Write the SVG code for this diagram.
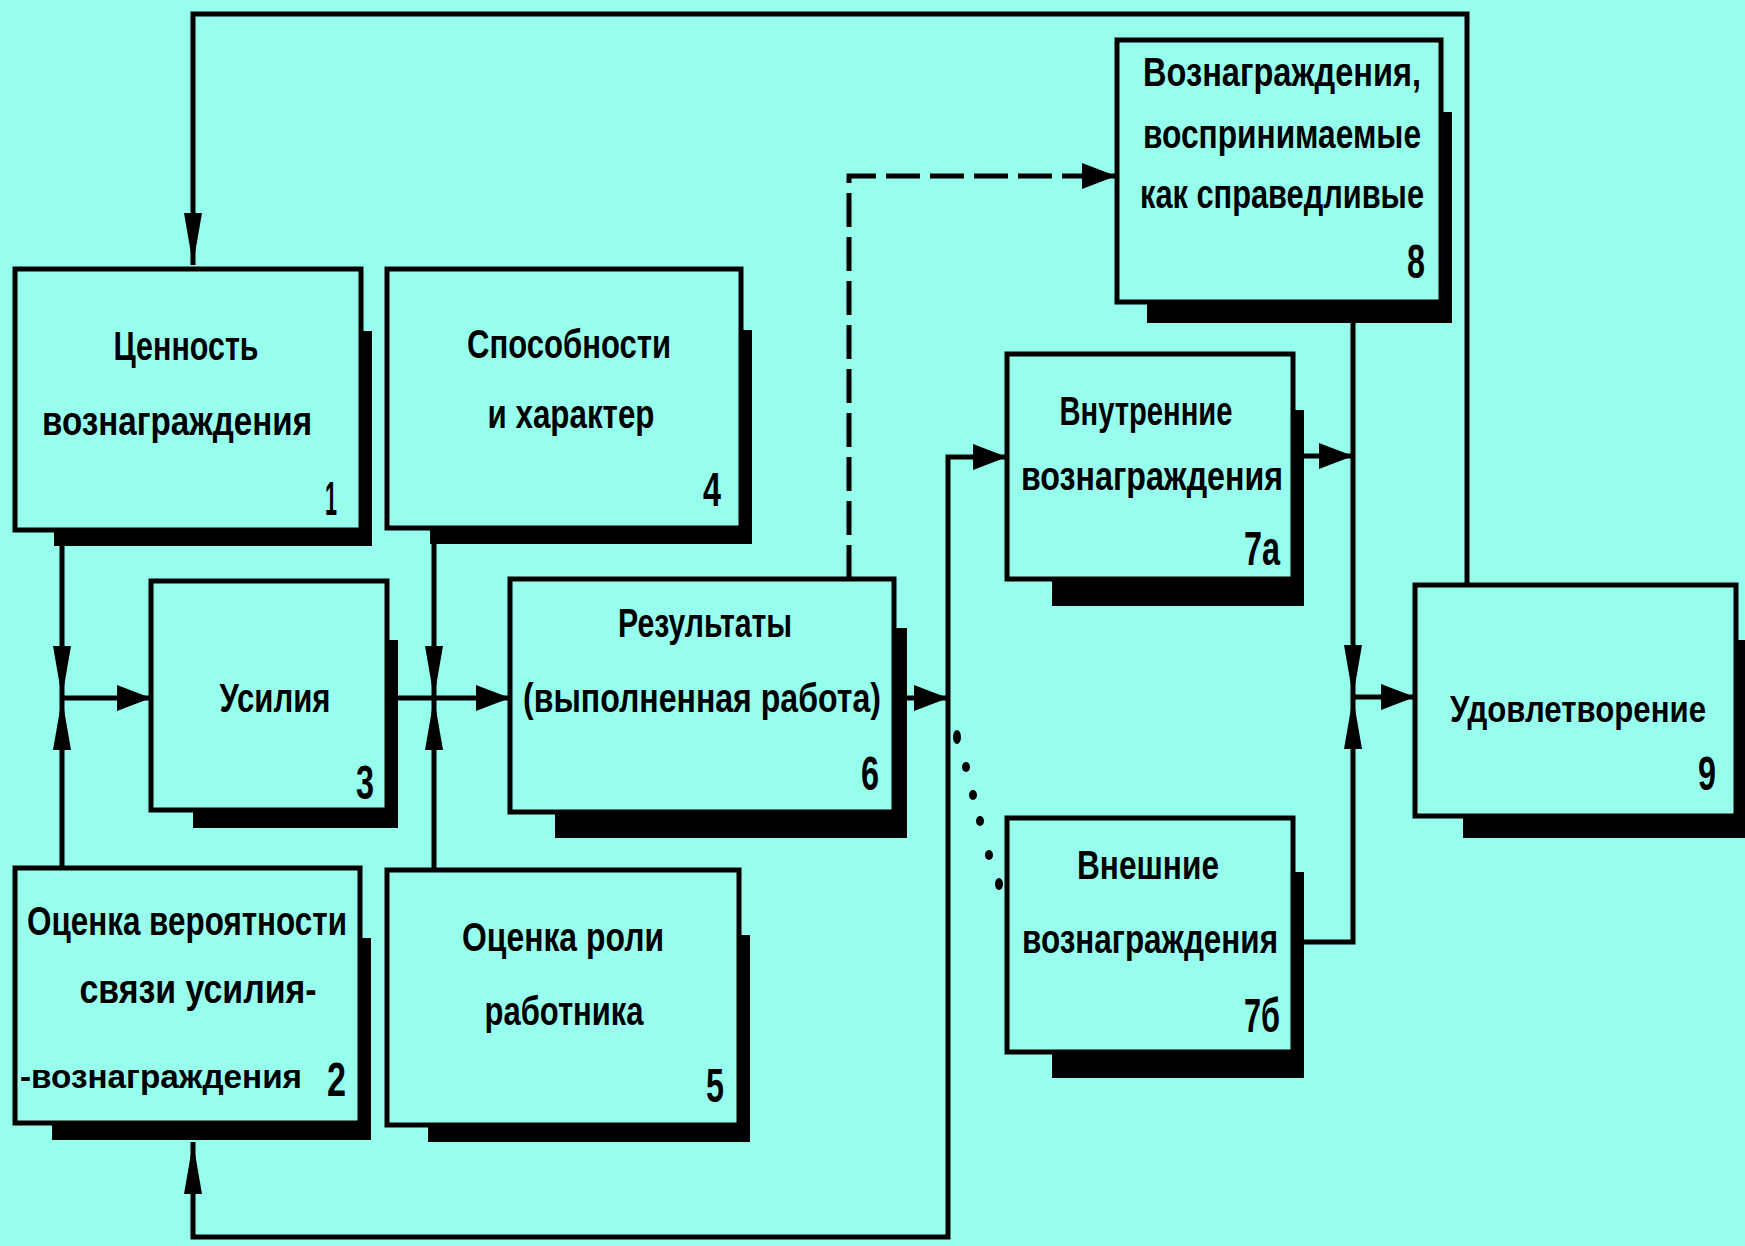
<svg xmlns="http://www.w3.org/2000/svg" width="1745" height="1246" viewBox="0 0 1745 1246">
<style>
.bg{fill:#97fdec}
.box{fill:#97fdec;stroke:#000;stroke-width:5}
.sh{fill:#000}
.ln{fill:none;stroke:#000;stroke-width:5}
.dash{fill:none;stroke:#000;stroke-width:5;stroke-dasharray:34 10}
.t{font-family:"Liberation Sans","DejaVu Sans",sans-serif;font-weight:bold;font-size:40px;fill:#000;text-anchor:middle}
.n{font-family:"Liberation Sans","DejaVu Sans",sans-serif;font-weight:bold;font-size:48px;fill:#000;text-anchor:end}
.dot{fill:#000}
</style>
<defs>
<marker id="ah" markerUnits="userSpaceOnUse" markerWidth="36" markerHeight="28" refX="34" refY="14" orient="auto">
<path d="M0,1 L34,14 L0,27 Z" fill="#000"/>
</marker>
<marker id="al" markerUnits="userSpaceOnUse" markerWidth="54" markerHeight="20" refX="52" refY="10" orient="auto">
<path d="M0,1 L52,10 L0,19 Z" fill="#000"/>
</marker>
</defs>
<rect class="bg" x="0" y="0" width="1745" height="1246"/>

<g id="connectors">
<path class="ln" d="M1467,585 V14 H193 V265" marker-end="url(#al)"/>
<path class="ln" d="M62,530 V698" marker-end="url(#al)"/>
<path class="ln" d="M62,868 V698" marker-end="url(#al)"/>
<path class="ln" d="M62,698 H151" marker-end="url(#ah)"/>
<path class="ln" d="M434,528 V698" marker-end="url(#al)"/>
<path class="ln" d="M434,870 V698" marker-end="url(#al)"/>
<path class="ln" d="M387,698 H510" marker-end="url(#ah)"/>
<path class="ln" d="M894,698 H948" marker-end="url(#ah)"/>
<path class="ln" d="M948,698 V1237 H193 V1142" marker-end="url(#al)"/>
<path class="ln" d="M948,698 V457 H1007" marker-end="url(#ah)"/>
<path class="dash" d="M849,579 V176 H1080"/>
<path class="ln" d="M1080,176 H1116" marker-end="url(#ah)"/>
<path class="ln" d="M1353,302 V697" marker-end="url(#al)"/>
<path class="ln" d="M1293,942 H1353 V697" marker-end="url(#al)"/>
<path class="ln" d="M1293,456 H1353" marker-end="url(#ah)"/>
<path class="ln" d="M1353,697 H1415" marker-end="url(#ah)"/>
<g id="dotted">
<ellipse class="dot" cx="957" cy="737" rx="4" ry="7"/>
<ellipse class="dot" cx="966" cy="767" rx="4" ry="5"/>
<ellipse class="dot" cx="973" cy="795" rx="4" ry="5"/>
<ellipse class="dot" cx="980" cy="821" rx="4" ry="5"/>
<ellipse class="dot" cx="989" cy="855" rx="4" ry="5"/>
<ellipse class="dot" cx="999" cy="884" rx="4" ry="6"/>
</g>
</g>

<g id="node1">
<path class="sh" d="M361,331 H372 V546 H54 V530 H361 Z"/>
<rect class="box" x="15" y="269" width="346" height="261"/>
<text class="t" x="186" y="360" textLength="145" lengthAdjust="spacingAndGlyphs">Ценность</text>
<text class="t" x="177" y="435" textLength="270" lengthAdjust="spacingAndGlyphs">вознаграждения</text>
<text class="n" x="337" y="515" textLength="12" lengthAdjust="spacingAndGlyphs">1</text>
</g>

<g id="node4">
<path class="sh" d="M741,330 H752 V544 H430 V528 H741 Z"/>
<rect class="box" x="387" y="269" width="354" height="259"/>
<text class="t" x="569" y="358" textLength="204" lengthAdjust="spacingAndGlyphs">Способности</text>
<text class="t" x="571" y="428" textLength="167" lengthAdjust="spacingAndGlyphs">и характер</text>
<text class="n" x="721" y="506" textLength="18" lengthAdjust="spacingAndGlyphs">4</text>
</g>

<g id="node3">
<path class="sh" d="M387,640 H398 V828 H193 V810 H387 Z"/>
<rect class="box" x="151" y="581" width="236" height="229"/>
<text class="t" x="275" y="712" textLength="111" lengthAdjust="spacingAndGlyphs">Усилия</text>
<text class="n" x="374" y="799" textLength="18" lengthAdjust="spacingAndGlyphs">3</text>
</g>

<g id="node6">
<path class="sh" d="M894,628 H907 V838 H555 V812 H894 Z"/>
<rect class="box" x="510" y="579" width="384" height="233"/>
<text class="t" x="705" y="637" textLength="174" lengthAdjust="spacingAndGlyphs">Результаты</text>
<text class="t" x="702" y="712" textLength="358" lengthAdjust="spacingAndGlyphs">(выполненная работа)</text>
<text class="n" x="879" y="790" textLength="18" lengthAdjust="spacingAndGlyphs">6</text>
</g>

<g id="node2">
<path class="sh" d="M360,938 H371 V1140 H52 V1123 H360 Z"/>
<rect class="box" x="15" y="868" width="345" height="255"/>
<text class="t" x="187" y="935" textLength="320" lengthAdjust="spacingAndGlyphs">Оценка вероятности</text>
<text class="t" x="198" y="1003" textLength="237" lengthAdjust="spacingAndGlyphs">связи усилия-</text>
<text class="t" x="20" y="1088" textLength="282" lengthAdjust="spacingAndGlyphs" style="text-anchor:start;font-size:34px">-вознаграждения</text>
<text class="n" x="346" y="1096" textLength="19" lengthAdjust="spacingAndGlyphs">2</text>
</g>

<g id="node5">
<path class="sh" d="M739,935 H750 V1142 H428 V1125 H739 Z"/>
<rect class="box" x="387" y="870" width="352" height="255"/>
<text class="t" x="563" y="951" textLength="202" lengthAdjust="spacingAndGlyphs">Оценка роли</text>
<text class="t" x="564" y="1025" textLength="159" lengthAdjust="spacingAndGlyphs">работника</text>
<text class="n" x="724" y="1102" textLength="18" lengthAdjust="spacingAndGlyphs">5</text>
</g>

<g id="node8">
<path class="sh" d="M1441,112 H1452 V323 H1147 V302 H1441 Z"/>
<rect class="box" x="1117" y="40" width="324" height="262"/>
<text class="t" x="1282" y="86" textLength="278" lengthAdjust="spacingAndGlyphs">Вознаграждения,</text>
<text class="t" x="1282" y="148" textLength="278" lengthAdjust="spacingAndGlyphs">воспринимаемые</text>
<text class="t" x="1282" y="208" textLength="284" lengthAdjust="spacingAndGlyphs">как справедливые</text>
<text class="n" x="1425" y="278" textLength="18" lengthAdjust="spacingAndGlyphs">8</text>
</g>

<g id="node7a">
<path class="sh" d="M1293,410 H1304 V606 H1052 V579 H1293 Z"/>
<rect class="box" x="1007" y="354" width="286" height="225"/>
<text class="t" x="1146" y="425" textLength="173" lengthAdjust="spacingAndGlyphs">Внутренние</text>
<text class="t" x="1152" y="490" textLength="262" lengthAdjust="spacingAndGlyphs">вознаграждения</text>
<text class="n" x="1280" y="565" textLength="36" lengthAdjust="spacingAndGlyphs">7а</text>
</g>

<g id="node7b">
<path class="sh" d="M1293,872 H1304 V1078 H1052 V1052 H1293 Z"/>
<rect class="box" x="1007" y="818" width="286" height="234"/>
<text class="t" x="1148" y="879" textLength="142" lengthAdjust="spacingAndGlyphs">Внешние</text>
<text class="t" x="1150" y="953" textLength="256" lengthAdjust="spacingAndGlyphs">вознаграждения</text>
<text class="n" x="1280" y="1032" textLength="36" lengthAdjust="spacingAndGlyphs">7б</text>
</g>

<g id="node9">
<path class="sh" d="M1736,640 H1745 V838 H1463 V816 H1736 Z"/>
<rect class="box" x="1415" y="585" width="321" height="231"/>
<text class="t" x="1578" y="722" textLength="256" lengthAdjust="spacingAndGlyphs" style="font-size:36px">Удовлетворение</text>
<text class="n" x="1716" y="790" textLength="18" lengthAdjust="spacingAndGlyphs">9</text>
</g>
</svg>
